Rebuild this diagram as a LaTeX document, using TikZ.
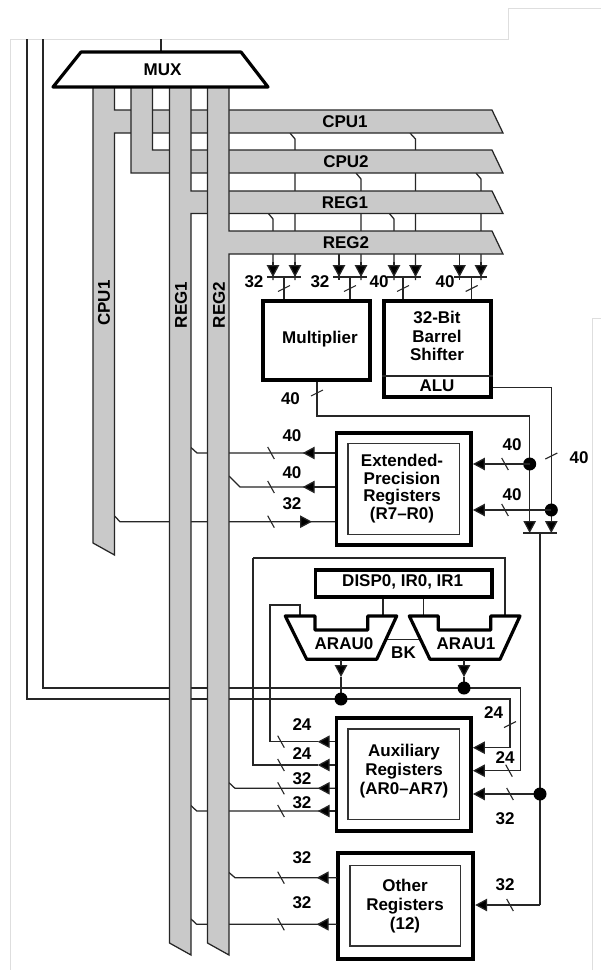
\documentclass[tikz,border=0pt]{standalone}
\usepackage{fontspec}
\setmainfont{Liberation Sans}
\usetikzlibrary{arrows.meta}
\definecolor{busgray}{HTML}{C9C9C9}
\definecolor{framegray}{HTML}{DEDEDE}
\tikzset{
  x=1pt,y=-1pt,
  wire/.style={line width=1.25pt,draw=black!85,line join=miter},
  tip/.style={wire,-{Triangle[width=12.5pt,length=12pt,fill=black]}},
  slash/.style={line width=1.1pt,draw=black!85},
  bus/.style={fill=busgray,draw=black!85,line width=1.25pt,line join=miter},
  frameline/.style={line width=1pt,draw=framegray},
  heavy/.style={draw=black,line width=3.8pt,fill=white,line join=miter,inner sep=0pt,align=center,font=\fs,minimum width=0pt},
  inner/.style={draw=black!80,line width=1.2pt,fill=white,inner sep=0pt,align=center,font=\fs},
  muxshape/.style={draw=black,line width=3.2pt,fill=white,line join=round},
  lab/.style={font=\fs,inner sep=0pt},
  dot/.style={circle,fill=black,inner sep=0pt,minimum size=13pt},
}
\newcommand{\fs}{\fontsize{17}{19}\selectfont\bfseries}
\newcommand{\hs}[2]{\draw[slash] (#1-3.3,#2-6) -- (#1+3.3,#2+6);}
\newcommand{\vs}[2]{\draw[slash] (#1-6,#2+3) -- (#1+6,#2-3);}
\begin{document}
\begin{tikzpicture}
\useasboundingbox (0,0) rectangle (601,970);
\fill[white] (0,0) rectangle (601,970);
% scan frame remains
\draw[frameline] (10,970) -- (10,39) -- (508,39) -- (508,8) -- (601,8);
\draw[frameline] (601,318) -- (592.5,318) -- (592.5,970);

% coordinates for junctions
\coordinate (jA) at (341,699);
\coordinate (jB) at (464,688);
\coordinate (jM) at (529.7,464);
\coordinate (jL) at (551.3,510);
\coordinate (jS) at (540,794);
\coordinate (merge) at (540,533);

% long wires behind the buses
\draw[wire] (27,39) -- (27,699) -- (510,699) -- (510,748);
\draw[wire] (43,39) -- (43,688) -- (520.7,688) -- (520.7,770.7);
\draw[wire] (161,39) -- (161,52);

% bus taps
\draw[wire] (290,133) -- (295,139) -- (295,280);
\draw[wire] (410,133) -- (415.5,139) -- (415.5,280);
\draw[wire] (356,173) -- (361,179) -- (361,280);
\draw[wire] (476,173) -- (481,179) -- (481,280);
\draw[wire] (268,213) -- (273,219) -- (273,280);
\draw[wire] (389,213) -- (394,219) -- (394,280);
\draw[wire] (339,250) -- (339,280);
\draw[wire] (459.5,250) -- (459.5,280);

% register bus links behind buses
\draw[wire] (335,453) -- (197,453) -- (191,447.5);
\draw[wire] (335,487) -- (240,487) -- (229,476);
\draw[wire] (335,521.7) -- (120,521.7) -- (114.5,516);
\draw[wire] (335,788.3) -- (235,788.3) -- (229,782.7);
\draw[wire] (335,811) -- (196.7,811) -- (191,805.5);
\draw[wire] (337,877.7) -- (235,877.7) -- (229,872.5);
\draw[wire] (337,924.3) -- (196.7,924.3) -- (191,919);

% buses
\draw[bus] (93,87) -- (114.5,87) -- (114.5,110) -- (492,110) -- (503,133) -- (114.5,133) -- (114.5,555) -- (93,543) -- cycle;
\draw[bus] (131,87) -- (152.5,87) -- (152.5,150) -- (492,150) -- (503,173) -- (131,173) -- cycle;
\draw[bus] (169.5,87) -- (191,87) -- (191,191) -- (492,191) -- (503,213.5) -- (191,213.5) -- (191,955) -- (169.5,943) -- cycle;
\draw[bus] (207.5,87) -- (229,87) -- (229,231) -- (492,231) -- (503,254) -- (229,254) -- (229,955) -- (207.5,943) -- cycle;
\node[lab] (tCPU1) at (345,121.5) {CPU1};
\node[lab] (tCPU2) at (346,162) {CPU2};
\node[lab] (tREG1) at (345,202.5) {REG1};
\node[lab] (tREG2) at (346,242.5) {REG2};
\node[lab,rotate=90] (vCPU1) at (104,303) {CPU1};
\node[lab,rotate=90] (vREG1) at (181,305) {REG1};
\node[lab,rotate=90] (vREG2) at (219,305) {REG2};

% MUX
\draw[muxshape] (81,52) -- (241,52) -- (268,87) -- (53,87) -- cycle;
\node[lab] (mux) at (162.5,70) {MUX};

% main boxes
\node[heavy,minimum width=107.5pt,minimum height=79.5pt] (mult) at (316.5,340.5) {};
\node[lab] (multt) at (320,339.5) {Multiplier};
\node[heavy,minimum width=107pt,minimum height=96.5pt] (shift) at (437.3,349) {};
\node[lab,align=center] (shifttext) at (437,336) {32-Bit\\[-0.3pt]Barrel\\[-0.3pt]Shifter};
\draw[wire] (shift.west |- 0,376) -- (shift.east |- 0,376);
\node[lab] (alu) at (437,386) {ALU};

\node[heavy,minimum width=134.5pt,minimum height=112pt] (ext) at (403.8,488.8) {};
\node[inner,minimum width=111.3pt,minimum height=90.6pt] (exti) at (403.7,489) {};
\node[lab,align=center] (extt) at (402,488.5) {Extended-\\[-1.4pt]Precision\\[-1.4pt]Registers\\[-1.4pt](R7--R0)};

\node[heavy,minimum width=176.5pt,minimum height=27pt,inner sep=0pt] (disp) at (403.8,583.8) {};
\node[lab] (dispt) at (402.7,582) {DISP0, IR0, IR1};

\node[heavy,minimum width=134.5pt,minimum height=113pt] (aux) at (403.8,774.2) {};
\node[inner,minimum width=111.3pt,minimum height=90.3pt] (auxi) at (403.7,774.2) {};
\node[lab,align=center] (auxt) at (404,771) {Auxiliary\\[0.3pt]Registers\\[0.3pt](AR0--AR7)};

\node[heavy,minimum width=135pt,minimum height=105.5pt] (oth) at (405.8,906) {};
\node[inner,minimum width=110.7pt,minimum height=80.7pt] (othi) at (405.3,905.7) {};
\node[lab,align=center] (otht) at (405,906) {Other\\Registers\\(12)};

% top inputs to multiplier and shifter
\foreach \a/\b/\c/\xl/\xr in {273/295/284/267/301,339/361/350/333/367,394/415.5/403/387/421,459.5/481/471.7/454/487}{
  \draw[tip] (\a,262) -- (\a,277);
  \draw[tip] (\b,262) -- (\b,277);
  \draw[wire] (\xl,277) -- (\xr,277);
  \draw[wire] (\c,277) -- (\c,299);
  \vs{\c}{288.5}
}
\node[lab] at (254,282) {32};
\node[lab] at (320,282) {32};
\node[lab] at (379,282) {40};
\node[lab] at (445,282) {40};

% multiplier and ALU outputs
\draw[wire] (mult.south -| 317,0) -- (317,416) -- (529.7,416) -- (jM);
\draw[wire] (shift.east |- 0,387.7) -- (551.3,387.7) -- (jL);
\draw[tip] (jM) -- (529.7,533);
\draw[tip] (jL) -- (551.3,533);
\draw[wire] (523,533) -- (557,533);
\draw[wire] (merge) -- (540,905);
\vs{317}{393}
\node[lab] at (290.5,399) {40};
\vs{551.3}{456}
\node[lab] at (579,458) {40};
\node[dot] (dM) at (jM) {};
\node[dot] (dL) at (jL) {};

% extended precision
\draw[tip] (jM) -- (ext.east |- jM);
\draw[tip] (jL) -- (ext.east |- jL);
\hs{505}{464}
\hs{505}{510}
\node[lab] at (512,445) {40};
\node[lab] at (512,495) {40};
\draw[tip] (335,453) -- (302.7,453);
\draw[tip] (335,487) -- (302.7,487);
\draw[tip] (290,521.7) -- (312,521.7);
\hs{271}{453}
\hs{271}{487}
\hs{271}{521.7}
\node[lab] at (292,435.5) {40};
\node[lab] at (292,473) {40};
\node[lab] at (292,503.5) {32};

% ARAUs
\draw[wire] (253,558) -- (505,558) -- (505,616);
\draw[tip] (335,765) -- (317.7,765);
\draw[wire] (253,558) -- (253,765) -- (317.7,765);
\draw[wire] (300,616) -- (300,605) -- (270,605) -- (270,741.7) -- (317.7,741.7);
\draw[tip] (335,741.7) -- (317.7,741.7);
\draw[wire] (disp.south -| 383,0) -- (383,616);
\draw[wire] (disp.south -| 423.3,0) -- (423.3,616);
\draw[wire] (387,639.7) -- (419,639.7);
\draw[muxshape] (285.3,616) -- (315,616) -- (315,630) -- (367.7,630) -- (367.7,616) -- (396.7,616) -- (376.7,659.3) -- (306.7,659.3) -- cycle;
\draw[muxshape] (409.3,616) -- (438.3,616) -- (438.3,630) -- (490.7,630) -- (490.7,616) -- (520,616) -- (500,659.3) -- (430,659.3) -- cycle;
\node[lab] (arau0) at (344,644) {ARAU0};
\node[lab] (arau1) at (466,644) {ARAU1};
\node[lab] (bk) at (403.5,653) {BK};
\draw[tip] (341,660) -- (341,677);
\draw[wire] (341,677) -- (jA);
\draw[tip] (464,660) -- (464,677);
\draw[wire] (464,677) -- (jB);
\node[dot] (dA) at (jA) {};
\node[dot] (dB) at (jB) {};

% auxiliary registers
\draw[tip] (510,747.7) -- (aux.east |- 0,747.7);
\draw[tip] (520.7,770.7) -- (aux.east |- 0,770.7);
\draw[tip] (jS) -- (aux.east |- jS);
\node[dot] (dS) at (jS) {};
\vs{510}{724.5}
\hs{509}{770.7}
\hs{510}{794}
\node[lab] at (493.5,713) {24};
\node[lab] at (505,758) {24};
\node[lab] at (505,819) {32};
\draw[tip] (335,788.3) -- (317.7,788.3);
\draw[tip] (335,811) -- (317.7,811);
\hs{281}{741.7}
\hs{281}{765}
\hs{281}{788.3}
\hs{281}{811}
\node[lab] at (302,725) {24};
\node[lab] at (302,754) {24};
\node[lab] at (302,779) {32};
\node[lab] at (302,803) {32};

% other registers
\draw[tip] (540,905) -- (oth.east |- 0,905);
\hs{510}{905}
\node[lab] at (505,885) {32};
\draw[tip] (337,877.7) -- (316.7,877.7);
\draw[tip] (337,924.3) -- (316.7,924.3);
\hs{281}{877.7}
\hs{281}{924.3}
\node[lab] at (302,858) {32};
\node[lab] at (302,903) {32};
\end{tikzpicture}
\end{document}
